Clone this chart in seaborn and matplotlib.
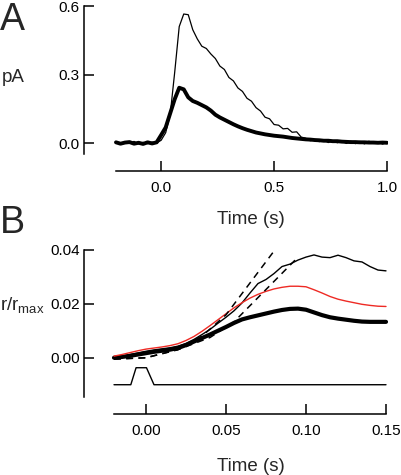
import numpy as np
import pandas as pd
import matplotlib
matplotlib.use("Agg")
import matplotlib.pyplot as plt
import seaborn as sns

# panel A: current traces (pA) vs time (s)
t_a = [-0.20, -0.18, -0.16, -0.14, -0.12, -0.10, -0.08, -0.06, -0.04, -0.02,
       0.00, 0.02, 0.04, 0.06, 0.08, 0.10, 0.12, 0.14, 0.16, 0.18,
       0.20, 0.22, 0.24, 0.26, 0.28, 0.30, 0.32, 0.34, 0.36, 0.38,
       0.40, 0.42, 0.44, 0.46, 0.48, 0.50, 0.52, 0.54, 0.56, 0.58,
       0.60, 0.62, 0.64, 0.66, 0.68, 0.70, 0.72, 0.74, 0.76, 0.78,
       0.80, 0.82, 0.84, 0.86, 0.88, 0.90, 0.92, 0.94, 0.96, 0.98, 1.00]
thin_a = [0.004, -0.003, 0.006, -0.001, 0.007, -0.004, 0.003, -0.003, 0.004, 0.000,
          0.012, 0.045, 0.125, 0.310, 0.510, 0.565, 0.562, 0.496, 0.456, 0.424,
          0.414, 0.390, 0.370, 0.337, 0.322, 0.287, 0.272, 0.241, 0.226, 0.196,
          0.183, 0.155, 0.140, 0.113, 0.106, 0.081, 0.078, 0.062, 0.064, 0.047,
          0.049, 0.026, 0.021, 0.010, 0.014, 0.006, 0.013, 0.002, 0.010, 0.001,
          0.009, -0.002, 0.008, -0.003, 0.007, -0.004, 0.008, -0.002, 0.006, -0.005, 0.003]
thick_a = [0.003, -0.003, 0.002, 0.004, -0.003, 0.001, -0.004, 0.003, -0.002, 0.003,
           0.035, 0.068, 0.130, 0.192, 0.242, 0.235, 0.200, 0.184, 0.176, 0.166,
           0.156, 0.142, 0.124, 0.112, 0.102, 0.092, 0.082, 0.073, 0.065, 0.058,
           0.052, 0.046, 0.042, 0.038, 0.035, 0.032, 0.030, 0.028, 0.025, 0.022,
           0.020, 0.018, 0.016, 0.015, 0.013, 0.012, 0.010, 0.010, 0.008, 0.008,
           0.006, 0.005, 0.004, 0.004, 0.003, 0.003, 0.002, 0.002, 0.001, 0.002, 0.001]

# panel B: r/rmax vs time (s)
t_b = [-0.020, -0.015, -0.010, -0.005, 0.000, 0.005, 0.010, 0.015, 0.020, 0.025,
       0.030, 0.035, 0.040, 0.045, 0.050, 0.055, 0.060, 0.065, 0.070, 0.075,
       0.080, 0.085, 0.090, 0.095, 0.100, 0.105, 0.110, 0.115, 0.120, 0.125,
       0.130, 0.135, 0.140, 0.145, 0.150]
red_b = [0.0006, 0.0012, 0.0019, 0.0026, 0.0032, 0.0036, 0.0040, 0.0045, 0.0052, 0.0064,
         0.0079, 0.0098, 0.0119, 0.0141, 0.0163, 0.0185, 0.0204, 0.0221, 0.0235, 0.0246,
         0.0255, 0.0261, 0.0265, 0.0265, 0.0263, 0.0252, 0.0240, 0.0227, 0.0217, 0.0210,
         0.0204, 0.0198, 0.0194, 0.0191, 0.0190]
thin_b = [0.0001, 0.0006, 0.0012, 0.0018, 0.0024, 0.0029, 0.0033, 0.0037, 0.0043, 0.0053,
          0.0068, 0.0086, 0.0105, 0.0128, 0.0150, 0.0174, 0.0203, 0.0240, 0.0275, 0.0290,
          0.0312, 0.0338, 0.0347, 0.0362, 0.0373, 0.0381, 0.0373, 0.0371, 0.0380, 0.0371,
          0.0359, 0.0355, 0.0338, 0.0325, 0.0322]
thick_b = [0.0000, 0.0003, 0.0007, 0.0012, 0.0017, 0.0022, 0.0026, 0.0030, 0.0036, 0.0047,
           0.0060, 0.0073, 0.0086, 0.0100, 0.0114, 0.0129, 0.0142, 0.0150, 0.0157, 0.0164,
           0.0171, 0.0177, 0.0181, 0.0182, 0.0178, 0.0168, 0.0158, 0.0150, 0.0145, 0.0141,
           0.0137, 0.0134, 0.0133, 0.0133, 0.0133]
fit1_t = [-0.020, 0.000, 0.020, 0.035, 0.050, 0.0806]
fit1_v = [-0.0005, 0.0000, 0.0030, 0.0080, 0.0159, 0.0400]
fit2_t = [-0.020, 0.000, 0.020, 0.040, 0.055, 0.0952]
fit2_v = [-0.0005, 0.0000, 0.0030, 0.0075, 0.0133, 0.0374]
stim_t = [-0.020, -0.0095, -0.0062, 0.0003, 0.0050, 0.150]
stim_v = [-0.0100, -0.0100, -0.0037, -0.0037, -0.0100, -0.0100]

sns.set_style("ticks")
plt.rcParams["font.family"] = ["Liberation Sans", "DejaVu Sans"]
plt.rcParams["mathtext.fontset"] = "custom"
plt.rcParams["mathtext.rm"] = "Liberation Sans"

W, H = 401, 475
fig = plt.figure(figsize=(W / 100, H / 100), dpi=100)

def px_axes(left, right, top, bottom):
    return fig.add_axes([left / W, 1 - bottom / H, (right - left) / W, (bottom - top) / H])

def style(ax):
    sns.despine(ax=ax)
    for s in ["left", "bottom"]:
        ax.spines[s].set_linewidth(1.1)
        ax.spines[s].set_color("black")
    ax.tick_params(direction="in", length=7, width=1.1, labelsize=11, colors="black")
    ax.tick_params(axis="x", pad=7)
    ax.tick_params(axis="y", pad=3)
    ax.set_ylabel("")

# ---- panel A ----
axA = px_axes(84, 388, 5, 171)
sns.lineplot(x=t_a, y=thin_a, ax=axA, color="black", lw=0.9, sort=False, estimator=None)
sns.lineplot(x=t_a, y=thick_a, ax=axA, color="black", lw=2.8, sort=False, estimator=None)
axA.set_xlim(-0.3416, 1.0044)
axA.set_ylim(-0.1226, 0.6045)
axA.set_xticks([0.0, 0.5, 1.0])
axA.set_xticklabels(["0.0", "0.5", "1.0"])
axA.set_yticks([0.0, 0.3, 0.6])
axA.set_yticklabels(["0.0", "0.3", "0.6"])
style(axA)
axA.spines["left"].set_bounds(-0.048, 0.6)
axA.spines["bottom"].set_bounds(-0.2, 1.0)
axA.set_xlabel("Time (s)", fontsize=13.5)
axA.xaxis.set_label_coords(0.549, -0.241)

# ---- panel B ----
axB = px_axes(84, 388, 249, 414)
sns.lineplot(x=t_b, y=thick_b, ax=axB, color="black", lw=3.0, sort=False, estimator=None)
sns.lineplot(x=t_b, y=thin_b, ax=axB, color="black", lw=1.0, sort=False, estimator=None)
sns.lineplot(x=t_b, y=red_b, ax=axB, color="#ee2a24", lw=1.0, sort=False, estimator=None)
sns.lineplot(x=fit1_t, y=fit1_v, ax=axB, color="black", lw=1.1, linestyle=(0, (4.5, 3.5)),
             sort=False, estimator=None)
sns.lineplot(x=fit2_t, y=fit2_v, ax=axB, color="black", lw=1.1, linestyle=(0, (4.5, 3.5)),
             sort=False, estimator=None)
sns.lineplot(x=stim_t, y=stim_v, ax=axB, color="black", lw=1.0, sort=False, estimator=None)
axB.set_xlim(-0.03875, 0.15125)
axB.set_ylim(-0.02085, 0.0403)
axB.set_xticks([0.0, 0.05, 0.10, 0.15])
axB.set_xticklabels(["0.00", "0.05", "0.10", "0.15"])
axB.set_yticks([0.0, 0.02, 0.04])
axB.set_yticklabels(["0.00", "0.02", "0.04"])
style(axB)
axB.spines["left"].set_bounds(-0.0144, 0.04)
axB.spines["bottom"].set_bounds(-0.02, 0.15)
axB.set_xlabel("Time (s)", fontsize=13.5)
axB.xaxis.set_label_coords(0.549, -0.267)

# panel letters and y labels
fig.text(0 / W, 1 - 2 / H, "A", fontsize=27, va="top", ha="left")
fig.text(0 / W, 1 - 205 / H, "B", fontsize=27, va="top", ha="left")
fig.text(2 / W, 1 - 77 / H, "pA", fontsize=13.5, va="center", ha="left")
fig.text(0 / W, 1 - 311 / H, r"r/r$_{\mathrm{max}}$", fontsize=13.5, va="baseline", ha="left")

fig.savefig("out.png", dpi=100)
